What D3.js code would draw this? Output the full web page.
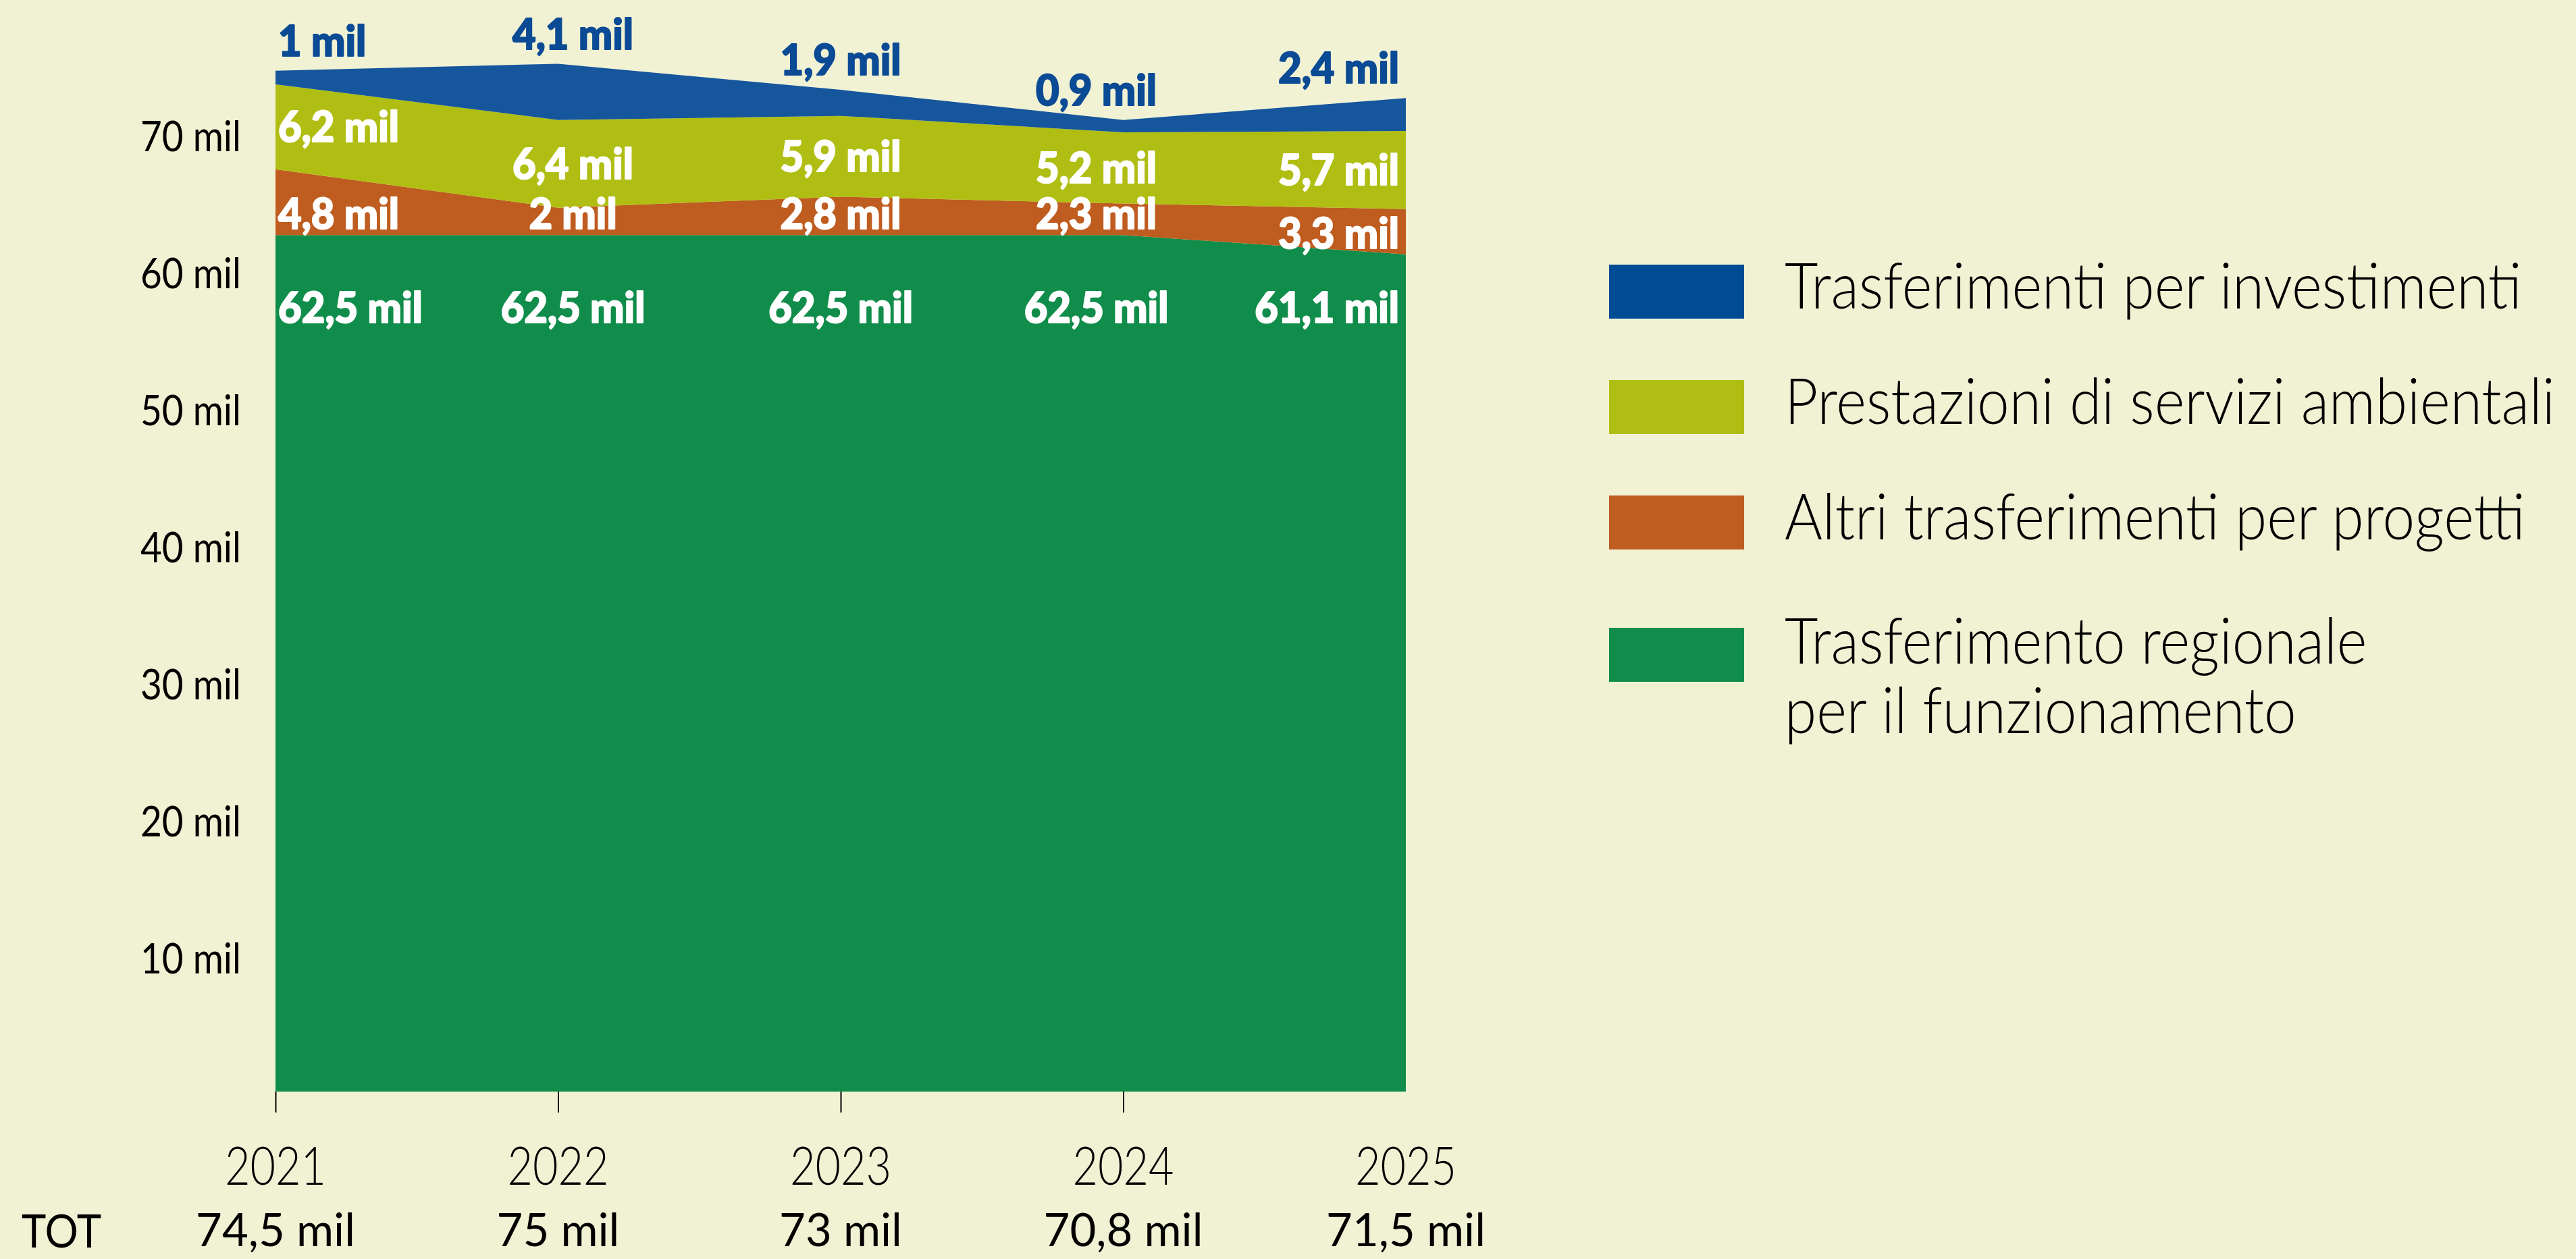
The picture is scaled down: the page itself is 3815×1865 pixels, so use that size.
<!DOCTYPE html>
<html>
<head>
<meta charset="utf-8">
<script src="https://cdn.jsdelivr.net/npm/d3@7"></script>
<style>
  html, body { margin: 0; padding: 0; background: #F1F2D4; }
  svg { display: block; }
  text { font-family: Lato, "Noto Sans", sans-serif; }
</style>
</head>
<body>
<svg id="chart" width="3815" height="1865"></svg>
<script>
// ---------------- DATA ----------------
const years = [2021, 2022, 2023, 2024, 2025];
const funzionamento = [62.5, 62.5, 62.5, 62.5, 61.1];   // Trasferimento regionale per il funzionamento
const altriProgetti = [4.8, 2.0, 2.8, 2.3, 3.3];        // Altri trasferimenti per progetti
const serviziAmbientali = [6.2, 6.4, 5.9, 5.2, 5.7];    // Prestazioni di servizi ambientali
const investimenti = [1.0, 4.1, 1.9, 0.9, 2.4];         // Trasferimenti per investimenti
const totals = [74.5, 75, 73, 70.8, 71.5];
const yTicks = [10, 20, 30, 40, 50, 60, 70];
const seriesKeys = ["funzionamento", "altri", "servizi", "investimenti"];
const seriesNames = {
  investimenti: ["Trasferimenti per investimenti"],
  servizi: ["Prestazioni di servizi ambientali"],
  altri: ["Altri trasferimenti per progetti"],
  funzionamento: ["Trasferimento regionale", "per il funzionamento"]
};
const legendOrder = ["investimenti", "servizi", "altri", "funzionamento"];

// ---------------- STYLE ----------------
const colors = {
  funzionamento: "#118D4B",
  altri: "#BF5C1F",
  servizi: "#B0BE13",
  investimenti: "#15569D"
};
const swatchColors = {
  funzionamento: "#118D4B",
  altri: "#BF5C1F",
  servizi: "#B0BE13",
  investimenti: "#004C94"
};
const blueText = "#0B4B95";
const labelDx = [0, 22, 0, -40, 0];

const fmt = v => String(v).replace(".", ",") + " mil";

const table = years.map((yr, i) => ({
  year: yr,
  funzionamento: funzionamento[i],
  altri: altriProgetti[i],
  servizi: serviziAmbientali[i],
  investimenti: investimenti[i]
}));

const svg = d3.select("#chart");

const x = d3.scaleLinear().domain([2021, 2025]).range([408, 2082]);
const y = d3.scaleLinear().domain([0, 80]).range([1617, 1617 - 80 * 20.3]);

const stacked = d3.stack().keys(seriesKeys)(table);

const area = d3.area()
  .x(d => x(d.data.year))
  .y0(d => y(d[0]))
  .y1(d => y(d[1]));

svg.append("g").selectAll("path")
  .data(stacked)
  .join("path")
  .attr("fill", d => colors[d.key])
  .attr("d", area);

// helper for horizontally condensed text
function ctext(g, txt, px, py, opts) {
  const sx = opts.sx || 1;
  const t = g.append("text")
    .attr("transform", `translate(${px},${py}) scale(${sx},1)`)
    .attr("text-anchor", opts.anchor || "start")
    .attr("font-size", opts.size)
    .attr("font-weight", opts.weight || 400)
    .attr("fill", opts.fill || "#000")
    .text(txt);
  if (opts.stroke) {
    t.attr("stroke", opts.fill || "#000").attr("stroke-width", opts.stroke)
     .attr("stroke-linejoin", "round");
  }
  return t;
}

// Y axis labels (no line)
const yAxis = d3.axisLeft(y).tickValues(yTicks).tickSize(0).tickPadding(0)
  .tickFormat(v => v + " mil");
const yg = svg.append("g").attr("transform", "translate(357,0)").call(yAxis);
yg.select(".domain").remove();
yg.selectAll("text")
  .attr("x", 0).attr("dy", 27)
  .attr("font-size", 61)
  .attr("font-family", "Lato, sans-serif")
  .attr("fill", "#000")
  .attr("text-anchor", "end")
  .attr("transform", "scale(0.9,1)");

// X axis ticks (first four years)
const xAxis = d3.axisBottom(x).tickValues(years.slice(0, 4)).tickSize(31).tickFormat("");
const xg = svg.append("g").attr("transform", `translate(0,${y(0)})`).call(xAxis);
xg.select(".domain").remove();
xg.selectAll("line").attr("stroke", "#000").attr("stroke-width", 2);

// Year labels and totals
const lab = svg.append("g");
years.forEach((yr, i) => {
  ctext(lab, String(yr), x(yr), 1755, {anchor: "middle", size: 78, weight: 300, sx: 0.83});
  ctext(lab, fmt(totals[i]), x(yr), 1846, {anchor: "middle", size: 67, weight: 400, sx: 1.0});
});
ctext(lab, "TOT", 32, 1848, {anchor: "start", size: 67, weight: 400, sx: 0.92});

// Data labels
function labelPos(i) {
  if (i === 0) return {x: x(years[i]) + 4, anchor: "start"};
  if (i === years.length - 1) return {x: x(years[i]) - 10, anchor: "end"};
  return {x: x(years[i]) + labelDx[i], anchor: "middle"};
}
const dl = svg.append("g");
const maxG = d3.max(funzionamento);
years.forEach((yr, i) => {
  const p = labelPos(i);
  const st = {};
  stacked.forEach(s => st[s.key] = s[i]);
  const opt = {anchor: p.anchor, size: 63, weight: 900, fill: "#fff", sx: 0.95, stroke: 2};
  // green
  ctext(dl, fmt(funzionamento[i]), p.x, y(maxG) + 130, opt);
  // orange
  ctext(dl, fmt(altriProgetti[i]), p.x, y(st.altri[0]) - 9, opt);
  // yellow
  ctext(dl, fmt(serviziAmbientali[i]), p.x, (y(st.servizi[0]) + y(st.servizi[1])) / 2 + 22, opt);
  // blue (above)
  ctext(dl, fmt(investimenti[i]), p.x, y(st.investimenti[1]) - 22, Object.assign({}, opt, {fill: blueText}));
});

// Legend
const lg = svg.append("g");
const legendY = [392, 563, 734, 930];
legendOrder.forEach((k, i) => {
  lg.append("rect")
    .attr("x", 2383).attr("y", legendY[i])
    .attr("width", 200).attr("height", 80)
    .attr("fill", swatchColors[k]);
  const lines = seriesNames[k];
  lines.forEach((ln, j) => {
    const base = lines.length === 1 ? legendY[i] + 65 : legendY[i] + 53 + j * 103;
    ctext(lg, ln, 2643, base, {anchor: "start", size: 94, weight: 300, sx: 0.91});
  });
});
</script>
</body>
</html>
